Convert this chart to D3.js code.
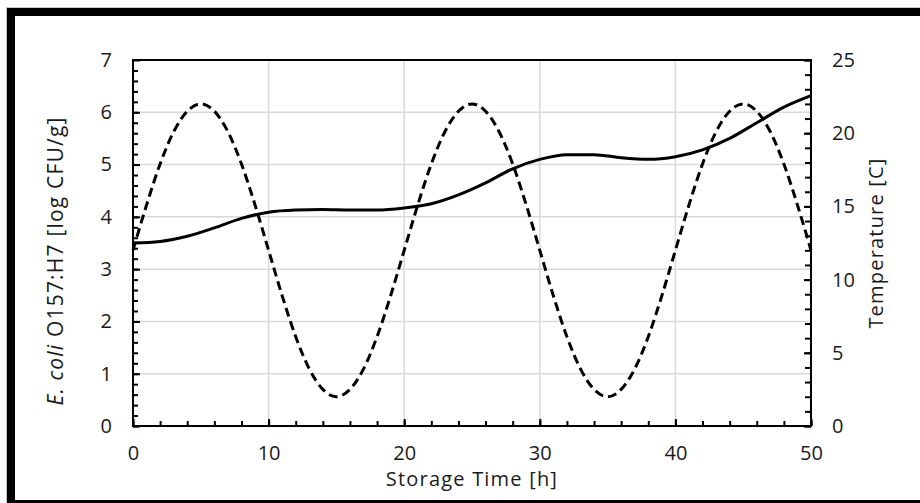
<!DOCTYPE html>
<html>
<head>
<meta charset="utf-8">
<script src="https://cdn.jsdelivr.net/npm/d3@7"></script>
<style>
  html, body { margin: 0; padding: 0; background: #fff; }
  #chart { width: 920px; height: 503px; }
  text { font-family: "Open Sans", sans-serif; fill: #1a1a1a; }
</style>
</head>
<body>
<div id="chart"></div>
<script>
// Storage time [h] and read-off values
const timeEcoli = [0, 2, 4, 6, 8, 10, 12, 14, 16, 18, 20, 22, 24, 26, 28, 30, 32, 34, 36, 38, 40, 42, 44, 46, 48, 50];
const ecoliLog = [3.50, 3.53, 3.63, 3.79, 3.97, 4.09, 4.13, 4.14, 4.13, 4.13, 4.17, 4.25, 4.42, 4.65, 4.92, 5.10, 5.19, 5.19, 5.13, 5.10, 5.15, 5.28, 5.50, 5.80, 6.10, 6.32];

const timeTemp = [0, 1, 2, 3, 4, 5, 6, 7, 8, 9, 10, 11, 12, 13, 14, 15, 16, 17, 18, 19, 20,
    21, 22, 23, 24, 25, 26, 27, 28, 29, 30, 31, 32, 33, 34, 35, 36, 37, 38, 39, 40,
    41, 42, 43, 44, 45, 46, 47, 48, 49, 50];
const temperature = [12, 15.1, 17.9, 20.1, 21.5, 22, 21.5, 20.1, 17.9, 15.1, 12, 8.9, 6.1, 3.9, 2.5, 2, 2.5, 3.9, 6.1, 8.9, 12,
    15.1, 17.9, 20.1, 21.5, 22, 21.5, 20.1, 17.9, 15.1, 12, 8.9, 6.1, 3.9, 2.5, 2, 2.5, 3.9, 6.1, 8.9, 12,
    15.1, 17.9, 20.1, 21.5, 22, 21.5, 20.1, 17.9, 15.1, 12];

const xTicks = [0, 10, 20, 30, 40, 50];
const leftTicks = [0, 1, 2, 3, 4, 5, 6, 7];
const rightTicks = [0, 5, 10, 15, 20, 25];

const width = 920, height = 503;
const plot = { left: 133, top: 60, right: 811, bottom: 426 };
const fontSize = 20;

const svg = d3.select('#chart').append('svg')
    .attr('width', width)
    .attr('height', height);

svg.append('rect').attr('width', width).attr('height', height).attr('fill', '#fff');

// outer frame (image is cropped on the right and bottom)
svg.append('rect')
    .attr('x', 6.5).attr('y', 7.5).attr('width', 1000).attr('height', 1000)
    .attr('fill', 'none').attr('stroke', '#c8c8c8').attr('stroke-width', 1);
svg.append('rect')
    .attr('x', 11).attr('y', 12).attr('width', 1000).attr('height', 492)
    .attr('fill', 'none').attr('stroke', '#000').attr('stroke-width', 8);

const x = d3.scaleLinear().domain([0, 50]).range([plot.left, plot.right]);
const yL = d3.scaleLinear().domain([0, 7]).range([plot.bottom, plot.top]);
const yR = d3.scaleLinear().domain([0, 25]).range([plot.bottom, plot.top]);

// gridlines
const grid = svg.append('g').attr('stroke', '#d9d9d9').attr('stroke-width', 1.5);
grid.selectAll('.gx').data(xTicks.slice(1, -1)).enter().append('line')
    .attr('x1', d => x(d)).attr('x2', d => x(d))
    .attr('y1', plot.top).attr('y2', plot.bottom);
grid.selectAll('.gy').data(leftTicks.slice(1, -1)).enter().append('line')
    .attr('x1', plot.left).attr('x2', plot.right)
    .attr('y1', d => yL(d)).attr('y2', d => yL(d));

// series
const tempLine = d3.line()
    .x((d, i) => x(timeTemp[i]))
    .y(d => yR(d))
    .curve(d3.curveMonotoneX);
svg.append('path')
    .datum(temperature)
    .attr('d', tempLine)
    .attr('fill', 'none')
    .attr('stroke', '#000')
    .attr('stroke-width', 3)
    .attr('stroke-dasharray', '9,5');

const ecoliLine = d3.line()
    .x((d, i) => x(timeEcoli[i]))
    .y(d => yL(d))
    .curve(d3.curveMonotoneX);
svg.append('path')
    .datum(ecoliLog)
    .attr('d', ecoliLine)
    .attr('fill', 'none')
    .attr('stroke', '#000')
    .attr('stroke-width', 3);

// axes (ticks point into the plot)
function styleAxis(g) {
    g.select('.domain').remove();
    g.selectAll('line').attr('stroke', '#000').attr('stroke-width', 2);
    g.selectAll('text').attr('font-size', fontSize).attr('font-family', '"Open Sans", sans-serif').attr('fill', '#1a1a1a');
}

svg.append('g').attr('transform', `translate(0,${plot.bottom})`)
    .call(d3.axisBottom(x).tickValues(d3.range(0, 51, 2)).tickSize(-5).tickFormat(''))
    .call(styleAxis);
svg.append('g').attr('transform', `translate(0,${plot.bottom})`)
    .call(d3.axisBottom(x).tickValues(xTicks).tickSizeInner(-7).tickSizeOuter(0).tickPadding(20))
    .call(styleAxis);

svg.append('g').attr('transform', `translate(${plot.left},0)`)
    .call(d3.axisLeft(yL).tickValues(d3.range(0, 35).map(d => d / 5)).tickSize(-5).tickFormat(''))
    .call(styleAxis);
svg.append('g').attr('transform', `translate(${plot.left},0)`)
    .call(d3.axisLeft(yL).tickValues(leftTicks).tickFormat(d3.format('d'))
        .tickSizeInner(-7).tickSizeOuter(0).tickPadding(21))
    .call(styleAxis);

svg.append('g').attr('transform', `translate(${plot.right},0)`)
    .call(d3.axisRight(yR).tickValues(d3.range(0, 26)).tickSize(-6).tickFormat(''))
    .call(styleAxis);
svg.append('g').attr('transform', `translate(${plot.right},0)`)
    .call(d3.axisRight(yR).tickValues(rightTicks).tickFormat(d3.format('d'))
        .tickSizeInner(-7).tickSizeOuter(0).tickPadding(21))
    .call(styleAxis);

// plot frame
svg.append('rect')
    .attr('x', plot.left).attr('y', plot.top)
    .attr('width', plot.right - plot.left).attr('height', plot.bottom - plot.top)
    .attr('fill', 'none').attr('stroke', '#000').attr('stroke-width', 2);

// titles
svg.append('text')
    .attr('x', (plot.left + plot.right) / 2).attr('y', 486)
    .attr('text-anchor', 'middle').attr('font-size', fontSize)
    .attr('letter-spacing', 1.2)
    .text('Storage Time [h]');

const leftTitle = svg.append('text')
    .attr('transform', 'translate(63,261) rotate(-90)')
    .attr('text-anchor', 'middle').attr('font-size', 21)
    .attr('letter-spacing', 1.2);
leftTitle.append('tspan').attr('font-style', 'italic').text('E. coli');
leftTitle.append('tspan').text(' O157:H7 [log CFU/g]');

svg.append('text')
    .attr('transform', `translate(883,${(plot.top + plot.bottom) / 2}) rotate(-90)`)
    .attr('text-anchor', 'middle').attr('font-size', fontSize)
    .attr('letter-spacing', 1.2)
    .text('Temperature [C]');
</script>
</body>
</html>
